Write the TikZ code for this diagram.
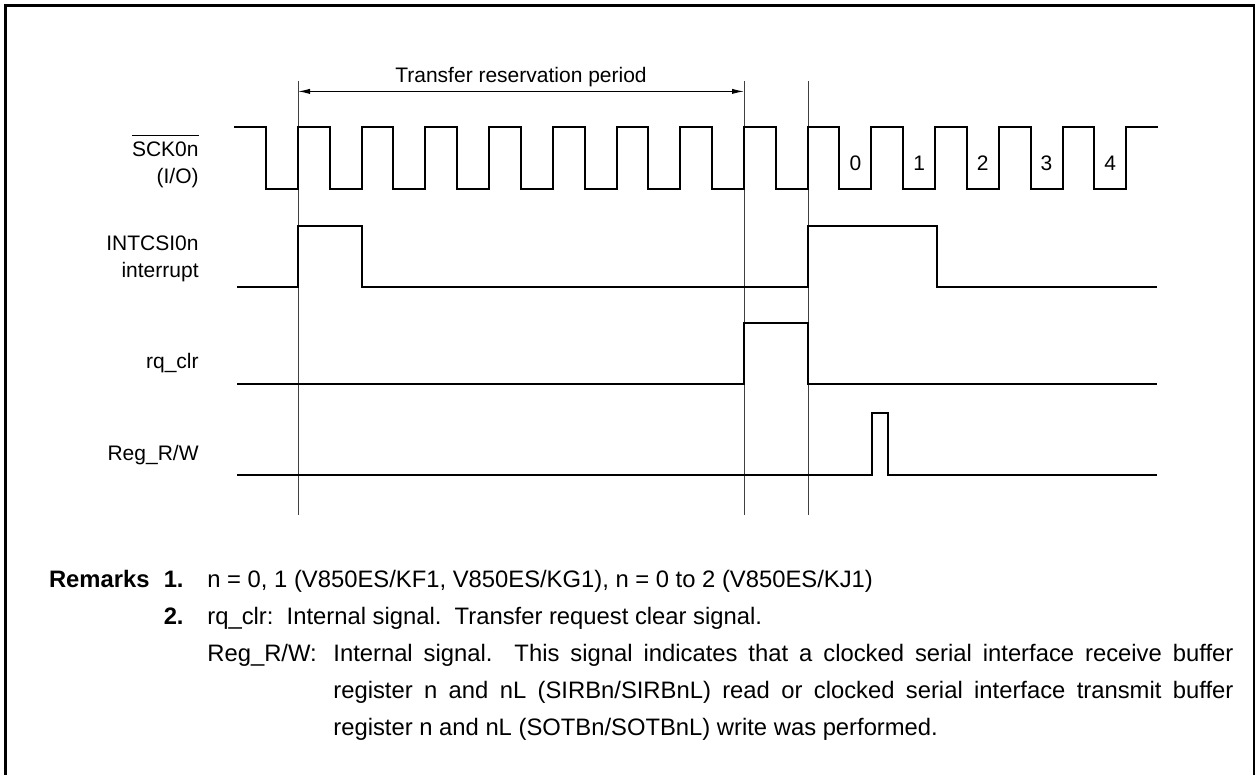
\documentclass[tikz,border=0pt]{standalone}
\usepackage{fontspec}
\setmainfont{Liberation Sans}
\usetikzlibrary{positioning,arrows.meta}

\begin{document}
\begin{tikzpicture}[
        x=0.5pt, y=-0.5pt,
        sig/.style={line width=1pt, line join=miter},
        guide/.style={line width=0.5pt, black!75},
        frame/.style={line width=1.35pt},
        arr/.style={{Latex[length=6pt,width=2.6pt]}-{Latex[length=6pt,width=2.6pt]}, line width=0.5pt},
        lbl/.style={inner sep=0pt, align=right, font=\fontsize{10.5}{13.5}\selectfont},
        rmk/.style={inner sep=0pt, font=\fontsize{11.9}{18.5}\selectfont},
        rmkb/.style={rmk, font=\fontsize{11.9}{18.5}\selectfont\bfseries},
    ]
    \useasboundingbox (0,0) rectangle (1258,775);

    % Frame (its bottom edge runs off the page)
    \draw[frame] (5.5,790) -- (5.5,5.5) -- (1254,5.5) -- (1254,790);

    % Guide lines
    \coordinate (g0) at (298,81);
    \coordinate (g1) at (744,81);
    \coordinate (g2) at (808,81);
    \foreach \g in {g0,g1,g2}
        \draw[guide] (\g) -- ++(0,434);

    % Transfer reservation period
    \coordinate (a0) at (298,91.4);
    \coordinate (a1) at (744,91.4);
    \draw[arr] (a0) -- node[lbl, above=2pt] (trp) {Transfer reservation period} (a1);

    % Signal names
    \node[lbl, anchor=east] (sck) at (199,161) {$\overline{\mbox{\rule{0pt}{9.6pt}SCK0n}}$\\(I/O)};
    \node[lbl, anchor=east] (intcsi) at (199,258.5) {INTCSI0n\\interrupt};
    \node[lbl, anchor=east] (rqclr) at (199,363) {rq\_clr};
    \node[lbl, anchor=east] (regrw) at (199,455) {Reg\_R/W};

    % SCK0n (I/O)
    \draw[sig] (234,127) \foreach \k in {0,...,13} {
        -- ({266+63.71*\k},127) -- ({266+63.71*\k},189)
        -- ({298+63.71*\k},189) -- ({298+63.71*\k},127)} -- (1158,127);
    \foreach \k [count=\n from 0] in {9,...,13}
        \node[lbl] (bit\n) at ({282+63.71*\k},163) {\n};

    % INTCSI0n interrupt
    \draw[sig] (237,287) -- (298,287) -- (298,226) -- (362,226) -- (362,287)
        -- (808,287) -- (808,226) -- (937,226) -- (937,287) -- (1157,287);

    % rq_clr
    \draw[sig] (237,384) -- (744,384) -- (744,323) -- (808,323) -- (808,384) -- (1157,384);

    % Reg_R/W
    \draw[sig] (237,475) -- (872,475) -- (872,413) -- (888,413) -- (888,475) -- (1157,475);

    % Remarks
    \node[rmkb, anchor=base east] (remarks) at (150,587) {Remarks};
    \node[rmkb, anchor=base east] (rm1) at (184,587) {1.};
    \node[rmk, anchor=base west] (rm1txt) at (207,587) {n = 0, 1 (V850ES/KF1, V850ES/KG1), n = 0 to 2 (V850ES/KJ1)};
    \node[rmkb, anchor=base east] (rm2) at (184,624) {2.};
    \node[rmk, anchor=base west] (rm2txt) at (207,624) {rq\_clr:\ \ Internal signal.\ \ Transfer request clear signal.};
    \node[rmk, anchor=base west] (rm3key) at (207,661) {Reg\_R/W:};
    \node[rmk, anchor=base west, text width=450pt, align=justify] (rm3txt) at (333,661)
        {Internal signal.\ \ This signal indicates that a clocked serial interface receive buffer\linebreak
         register n and nL (SIRBn/SIRBnL) read or clocked serial interface transmit buffer\linebreak
         register n and nL (SOTBn/SOTBnL) write was performed.};

\end{tikzpicture}
\end{document}
